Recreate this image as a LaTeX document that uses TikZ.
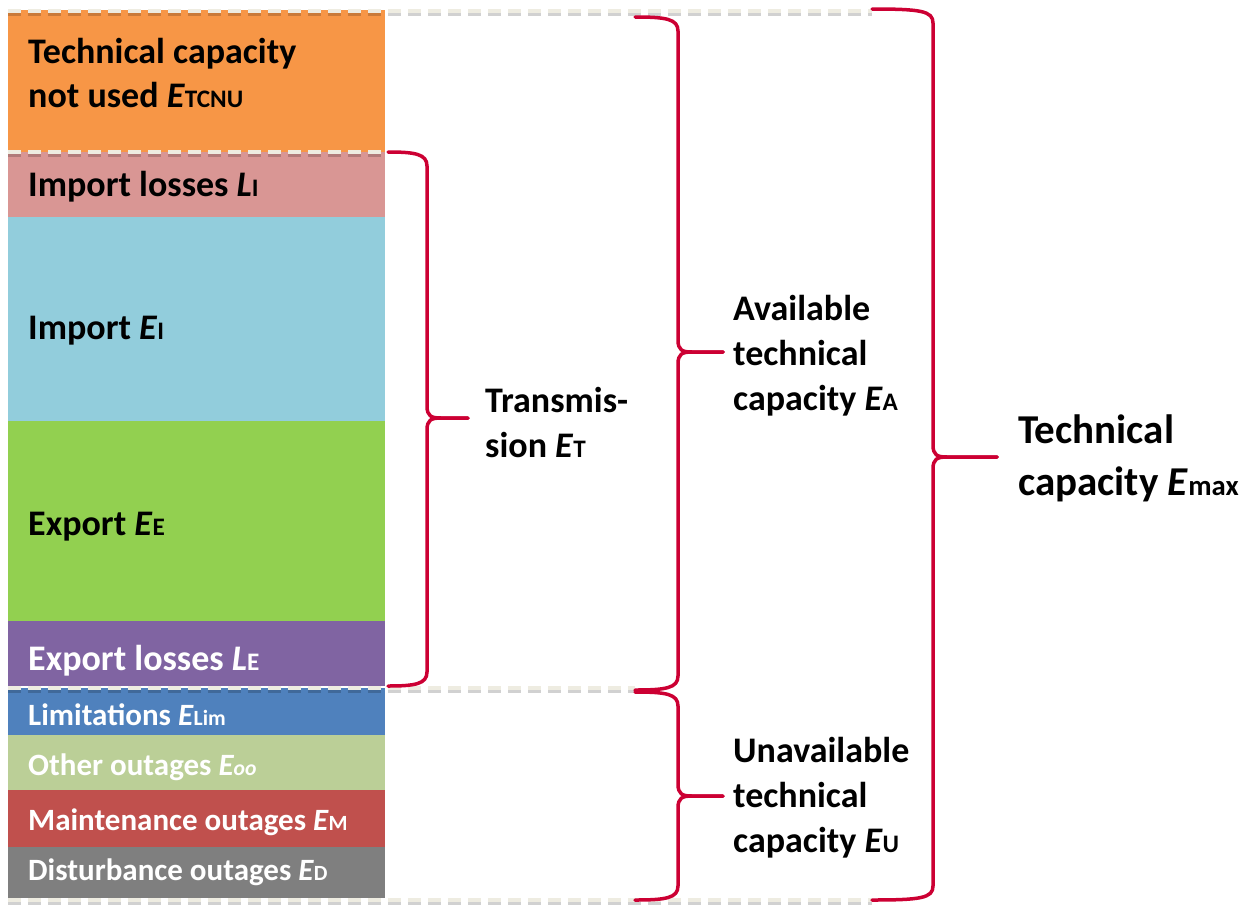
\documentclass[tikz,border=0pt]{standalone}
\usepackage{fontspec}
\setmainfont{Carlito}
\usepackage{graphicx}
\definecolor{capOrange}{HTML}{F79646}
\definecolor{capPink}{HTML}{D99694}
\definecolor{capAqua}{HTML}{92CDDC}
\definecolor{capGreen}{HTML}{92D050}
\definecolor{capPurple}{HTML}{8064A2}
\definecolor{capBlue}{HTML}{4F81BD}
\definecolor{capOlive}{HTML}{BBCF97}
\definecolor{capRed}{HTML}{C0504D}
\definecolor{capGray}{HTML}{7F7F7F}
\definecolor{braceRed}{RGB}{204,0,51}
\definecolor{gapTan}{HTML}{EEECE1}
\newcommand{\idx}[1]{\scalebox{0.7}{#1}}
% brace: start x, top y, bottom y, spine x, tip x, tip y
\newcommand{\capbrace}[6]{%
  \draw[bracestroke] (#1,#2) .. controls (#4-12,#2) and (#4,#2+2) .. (#4,#2+14)
    -- (#4,#6-12) .. controls (#4,#6-2) and (#4+4,#6) .. (#4+14,#6) -- (#5,#6);
  \draw[bracestroke] (#5,#6) -- (#4+14,#6) .. controls (#4+4,#6) and (#4,#6+2) .. (#4,#6+12)
    -- (#4,#3-14) .. controls (#4,#3-2) and (#4-12,#3) .. (#1,#3);}
% dashed gap line with its shadow
\newcommand{\gapline}[3]{%
  \draw[gapshade] (#1,#3+2.5) -- (#2,#3+2.5);
  \draw[gapdash] (#1,#3) -- (#2,#3);}
\begin{document}
\begin{tikzpicture}[x=1pt,y=-1pt,
    bartext/.style={anchor=base west,inner sep=0pt,font=\fontsize{36}{45}\selectfont\bfseries},
    lowtext/.style={anchor=base west,inner sep=0pt,text=white,font=\fontsize{31}{38}\selectfont\bfseries},
    sidetext/.style={anchor=west,align=left,inner sep=0pt,font=\fontsize{36}{45}\selectfont\bfseries},
    bracestroke/.style={draw=braceRed,line width=3.5pt,line cap=round,line join=round},
    gapdash/.style={draw=gapTan,line width=4pt,dash pattern=on 13pt off 7pt},
    gapshade/.style={draw=black,opacity=0.18,line width=4pt,dash pattern=on 13pt off 7pt}]
    \useasboundingbox (0,0) rectangle (1255,905);
    % stacked bar
    \foreach \ya/\yb/\col in {10/152/capOrange,152/217/capPink,217/421/capAqua,421/621/capGreen,621/686/capPurple,
        688/735/capBlue,735/790/capOlive,790/847/capRed,847/898/capGray}
        \fill[\col] (8,\ya) rectangle (385,\yb);
    \gapline{8}{872}{11}
    \gapline{8}{388}{152}
    \gapline{8}{635}{688}
    \gapline{8}{872}{900}
    % bar labels
    \node[bartext] (tcnu) at (28,63) {Technical capacity};
    \node[bartext] (tcnu2) at (28,107) {not used \textit{E}\idx{TCNU}};
    \node[bartext] (implos) at (28,196) {Import losses \textit{L}\idx{I}};
    \node[bartext] (imp) at (28,339) {Import \textit{E}\idx{I}};
    \node[bartext] (exp) at (28,535) {Export \textit{E}\idx{E}};
    \node[bartext,text=white] (explos) at (28,670) {Export losses \textit{L}\idx{E}};
    \node[lowtext] (lim) at (28,725) {Limitations \textit{E}\idx{Lim}};
    \node[lowtext] (other) at (28,775) {Other outages \textit{E\idx{oo}}};
    \node[lowtext] (maint) at (28,830) {Maintenance outages \textit{E}\idx{M}};
    \node[lowtext] (dist) at (28,880) {Disturbance outages \textit{E}\idx{D}};
    % braces
    \capbrace{388}{152}{686}{427}{468}{418}
    \capbrace{635}{17}{690}{678}{723}{352}
    \capbrace{635}{692}{900}{678}{723}{796}
    \capbrace{872}{9}{900}{933}{997}{457}
    \node[sidetext] (trans) at (485,422) {Transmis-\\sion \textit{E}\idx{T}};
    \node[sidetext] (avail) at (733,356) {Available\\technical\\capacity \textit{E}\idx{A}};
    \node[sidetext] (unavail) at (733,798) {Unavailable\\technical\\capacity \textit{E}\idx{U}};
    \node[sidetext,font=\fontsize{41}{52}\selectfont\bfseries] (emax) at (1018,458) {Technical\\capacity \textit{E}\idx{max}};
\end{tikzpicture}
\end{document}
